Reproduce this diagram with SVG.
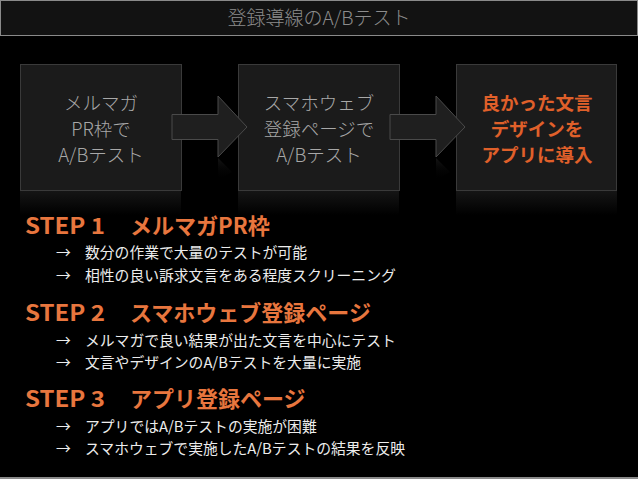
<svg xmlns="http://www.w3.org/2000/svg" width="638" height="479" viewBox="0 0 638 479">
  <defs>
    <linearGradient id="refl" x1="0" y1="0" x2="0" y2="1">
      <stop offset="0" stop-color="#151515"/>
      <stop offset="1" stop-color="#000"/>
    </linearGradient>
    <linearGradient id="arrowRefl" x1="0" y1="0" x2="0" y2="1">
      <stop offset="0" stop-color="#444" stop-opacity="0.6"/>
      <stop offset="1" stop-color="#000" stop-opacity="0"/>
    </linearGradient>
  </defs>
  <style>
    text { font-family: "Noto Sans CJK JP", "Noto Sans", sans-serif; }
    .box { fill: #1b1b1b; stroke: #3a3a3a; stroke-width: 1; }
    .boxtxt { fill: #a8a8a8; font-size: 18.5px; text-anchor: middle; font-weight: 300; }
    .boxtxt-hl { fill: #e0602a; font-size: 18.5px; text-anchor: middle; font-weight: 700; }
    .arrow { fill: #1f1f1f; stroke: #4a4a4a; stroke-width: 1; }
    .step { fill: #e8763e; font-size: 22px; font-weight: 700; }
    .bullet { fill: #ececec; font-size: 14.8px; }
    .title { fill: #8c8c8c; font-size: 19px; text-anchor: middle; font-weight: 300; }
  </style>
  <rect x="0" y="0" width="638" height="479" fill="#000"/>

  <g id="title">
    <rect x="0.5" y="0.5" width="637" height="35" fill="#121212" stroke="#8a8a8a" stroke-width="1"/>
    <text class="title" x="319" y="25">登録導線のA/Bテスト</text>
  </g>

  <g id="reflections">
    <rect x="20" y="191" width="161" height="24" fill="url(#refl)"/>
    <rect x="238" y="191" width="161" height="24" fill="url(#refl)"/>
    <rect x="456" y="191" width="161" height="24" fill="url(#refl)"/>
  </g>

  <g id="node1">
    <rect class="box" x="20.5" y="64.5" width="161" height="126"/>
    <text class="boxtxt" x="101" y="110">メルマガ</text>
    <text class="boxtxt" x="101" y="136">PR枠で</text>
    <text class="boxtxt" x="101" y="162">A/Bテスト</text>
  </g>

  <g id="node2">
    <rect class="box" x="238.5" y="64.5" width="161" height="126"/>
    <text class="boxtxt" x="319" y="110">スマホウェブ</text>
    <text class="boxtxt" x="319" y="136">登録ページで</text>
    <text class="boxtxt" x="319" y="162">A/Bテスト</text>
  </g>

  <g id="node3">
    <rect class="box" x="456.5" y="64.5" width="160" height="126"/>
    <text class="boxtxt-hl" x="537" y="110">良かった文言</text>
    <text class="boxtxt-hl" x="537" y="136">デザインを</text>
    <text class="boxtxt-hl" x="537" y="162">アプリに導入</text>
  </g>

  <g id="connectors">
    <path class="arrow" d="M172,114.5 H218 V96 L247,127 L218,157 V139.5 H172 Z"/>
    <path class="arrow" d="M390,114.5 H436 V96 L465,127 L436,157 V139.5 H390 Z"/>
    <path d="M218,158 L232,172 L218,180 Z" fill="url(#arrowRefl)" opacity="0.5"/>
    <path d="M436,158 L450,172 L436,180 Z" fill="url(#arrowRefl)" opacity="0.5"/>
  </g>

  <g id="step1">
    <text class="step" x="25" y="234"><tspan textLength="80" lengthAdjust="spacingAndGlyphs">STEP 1</tspan><tspan x="130">メルマガPR枠</tspan></text>
    <text class="bullet" x="56" y="258">→</text>
    <text class="bullet" x="85" y="258">数分の作業で大量のテストが可能</text>
    <text class="bullet" x="56" y="281">→</text>
    <text class="bullet" x="85" y="281">相性の良い訴求文言をある程度スクリーニング</text>
  </g>

  <g id="step2">
    <text class="step" x="25" y="321"><tspan textLength="80" lengthAdjust="spacingAndGlyphs">STEP 2</tspan><tspan x="130">スマホウェブ登録ページ</tspan></text>
    <text class="bullet" x="56" y="346">→</text>
    <text class="bullet" x="85" y="346">メルマガで良い結果が出た文言を中心にテスト</text>
    <text class="bullet" x="56" y="368">→</text>
    <text class="bullet" x="85" y="368">文言やデザインのA/Bテストを大量に実施</text>
  </g>

  <g id="step3">
    <text class="step" x="25" y="407"><tspan textLength="80" lengthAdjust="spacingAndGlyphs">STEP 3</tspan><tspan x="130">アプリ登録ページ</tspan></text>
    <text class="bullet" x="56" y="432">→</text>
    <text class="bullet" x="85" y="432">アプリではA/Bテストの実施が困難</text>
    <text class="bullet" x="56" y="454">→</text>
    <text class="bullet" x="85" y="454">スマホウェブで実施したA/Bテストの結果を反映</text>
  </g>

  <rect x="0" y="477" width="638" height="2" fill="#8a8a8a"/>
</svg>
